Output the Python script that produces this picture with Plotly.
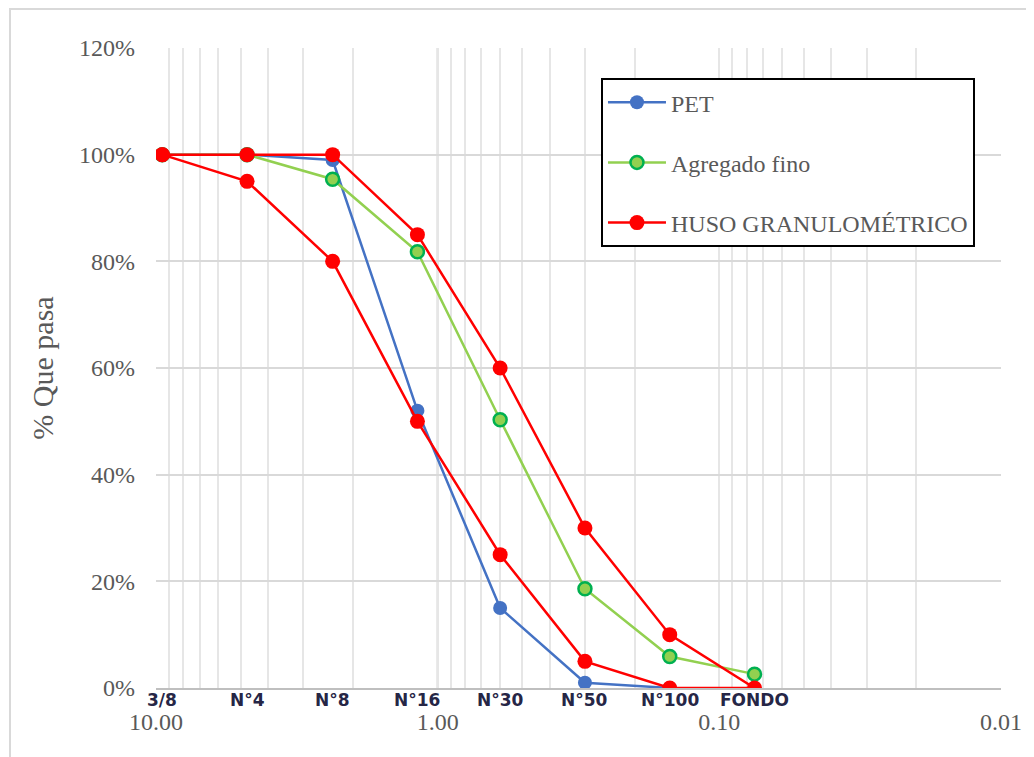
import math
import plotly.graph_objects as go

# Tamices (abertura en mm) y etiquetas
tamices = ["3/8", "N°4", "N°8", "N°16", "N°30", "N°50", "N°100", "FONDO"]
abertura = [9.5, 4.75, 2.36, 1.18, 0.6, 0.3, 0.15, 0.075]

# % que pasa
pet = [100, 100, 99, 52, 15, 1, 0, None]
agregado_fino = [100, 100, 95.4, 81.8, 50.3, 18.6, 5.9, 2.6]
huso_sup = [100, 100, 100, 85, 60, 30, 10, 0]
huso_inf = [100, 95, 80, 50, 25, 5, 0, 0]

# Eje x: marcas logarítmicas
major_vals = [10, 1, 0.1, 0.01]
major_text = ["10.00", "1.00", "0.10", "0.01"]

tickvals, ticktext = [], []
for dec in [10, 1, 0.1]:
    for m in range(10, 1, -1):
        v = round(dec * m / 10, 6)
        tickvals.append(v)
        ticktext.append(major_text[major_vals.index(v)] if v in major_vals else "")
tickvals.append(0.01)
ticktext.append("0.01")

serif = "Liberation Serif"
gray_txt = "#595959"

fig = go.Figure()

# Huso granulométrico como un contorno cerrado
hx = abertura + abertura[-2::-1]
hy = huso_sup + huso_inf[-2::-1]

fig.add_trace(go.Scatter(
    x=abertura, y=pet, name="PET", mode="lines+markers",
    line=dict(color="#4472c4", width=2.5),
    marker=dict(color="#4472c4", size=14),
    legendgroup="a", connectgaps=False))
fig.add_trace(go.Scatter(
    x=abertura, y=agregado_fino, name="Agregado fino", mode="lines+markers",
    line=dict(color="#92d050", width=2.5),
    marker=dict(color="#92d050", size=13, line=dict(color="#00b050", width=2.5)),
    legendgroup="b"))
fig.add_trace(go.Scatter(
    x=hx, y=hy, name="HUSO GRANULOMÉTRICO", mode="lines+markers",
    line=dict(color="#ff0000", width=2.5),
    marker=dict(color="#ff0000", size=15),
    legendgroup="c"))

# Etiquetas de tamices bajo el eje (en eje log, la posición es log10)
for t, a in zip(tamices, abertura):
    fig.add_annotation(
        x=math.log10(a), y=-0.0185, xref="x", yref="paper", text=t, showarrow=False,
        xanchor="center", yanchor="middle",
        font=dict(family="DejaVu Sans", size=17, color="#262646", weight="bold"))

# Línea mayor en 1.00 más oscura
fig.add_shape(type="line", xref="x", yref="paper", x0=1, x1=1, y0=0, y1=1,
              line=dict(color="#bfbfbf", width=2), layer="below")

# Marco exterior del gráfico
fig.add_shape(type="rect", xref="paper", yref="paper",
              x0=-0.1728, x1=1.06, y0=-0.2, y1=1.061,
              line=dict(color="#d9d9d9", width=2), layer="below")

fig.update_layout(
    width=1026, height=749,
    margin=dict(l=148, r=33, t=40, b=69, autoexpand=False),
    paper_bgcolor="white", plot_bgcolor="white",
    showlegend=True,
    legend=dict(
        x=0.5266, y=0.953, xanchor="left", yanchor="top",
        bordercolor="black", borderwidth=2, bgcolor="white",
        font=dict(family=serif, size=24, color=gray_txt),
        tracegroupgap=26, itemwidth=58),
)

fig.update_xaxes(
    type="log", range=[1, -2], autorange=False, automargin=False,
    tickmode="array", tickvals=tickvals, ticktext=ticktext,
    showgrid=True, gridcolor="#e6e6e6", gridwidth=1.5,
    showline=True, linecolor="#bfbfbf", linewidth=2,
    ticks="", ticklabelstandoff=11,
    tickfont=dict(family=serif, size=24, color=gray_txt),
    mirror=False, zeroline=False)

fig.update_yaxes(
    range=[0, 120], tickvals=[0, 20, 40, 60, 80, 100, 120], automargin=False,
    ticktext=["0%", "20%", "40%", "60%", "80%", "100%", "120%"],
    showgrid=True, gridcolor="#d9d9d9", gridwidth=1.5,
    showline=False, zeroline=False, ticks="", ticklabelstandoff=20,
    tickfont=dict(family=serif, size=24, color=gray_txt),
    title=dict(text="% Que pasa", font=dict(family=serif, size=30, color=gray_txt),
               standoff=16))

fig.write_html("out.html")
